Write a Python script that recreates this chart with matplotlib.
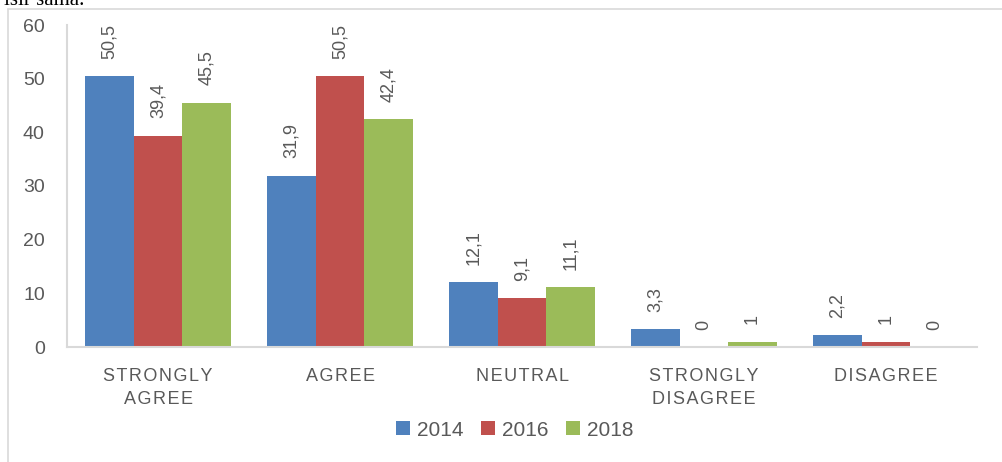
import numpy as np
import matplotlib.pyplot as plt
from matplotlib.patches import Rectangle

plt.rcParams['font.family'] = ['Liberation Sans', 'DejaVu Sans']

categories = ['STRONGLY\nAGREE', 'AGREE', 'NEUTRAL', 'STRONGLY\nDISAGREE', 'DISAGREE']
years = ['2014', '2016', '2018']
values_2014 = [50.5, 31.9, 12.1, 3.3, 2.2]
values_2016 = [39.4, 50.5, 9.1, 0, 1]
values_2018 = [45.5, 42.4, 11.1, 1, 0]
colors = ['#4F81BD', '#C0504D', '#9BBB59']
txt_col = '#595959'
line_col = '#D9D9D9'

def spaced(s):
    # letter spacing like the office chart
    return '\n'.join('\u200a'.join(line) for line in s.split('\n'))

fig = plt.figure(figsize=(10.03, 4.62), dpi=100)
ax = fig.add_axes([67/1003, 1 - 347/462, 910/1003, 322/462])

x = np.arange(len(categories))
width = 0.2667
series = [values_2014, values_2016, values_2018]
for i, (vals, yr, c) in enumerate(zip(series, years, colors)):
    pos = x + (i - 1) * width
    bars = ax.bar(pos, vals, width, color=c, label=yr, zorder=2)
    for xp, v in zip(pos, vals):
        lab = ('%g' % v).replace('.', ',')
        ax.annotate(lab, (xp, v), xytext=(0, 12.5), textcoords='offset points',
                    rotation=90, ha='center', va='bottom', fontsize=13, color=txt_col)

ax.set_xlim(-0.5, len(categories) - 0.5)
ax.set_ylim(0, 60)
ax.set_yticks(range(0, 61, 10))
ax.set_xticks(x)
ax.set_xticklabels([spaced(c) for c in categories], fontsize=13, color=txt_col, linespacing=1.45)
ax.tick_params(axis='y', length=0, pad=16, labelsize=14, labelcolor=txt_col)
ax.tick_params(axis='x', length=0, pad=15)
for s in ['top', 'right']:
    ax.spines[s].set_visible(False)
for s in ['left', 'bottom']:
    ax.spines[s].set_color(line_col)
    ax.spines[s].set_linewidth(1.5)

leg = fig.legend(loc='center', bbox_to_anchor=(515/1003, 1 - 430/462), ncol=3, frameon=False,
                 fontsize=15, handlelength=0.65, handleheight=0.65, handletextpad=0.35,
                 columnspacing=0.85, labelcolor=txt_col)

# chart border (cut off at right and bottom)
fig.patches.append(Rectangle((8/1003, -0.1), 1.2, 1 - 9/462 + 0.1, transform=fig.transFigure,
                             fill=False, edgecolor=line_col, linewidth=1.2))

# cut-off line of document text above the chart
fig.text(0.004, 1 - 5/462, 'ısır sama.', family='Liberation Serif', fontsize=15,
         color='black', va='baseline', ha='left')

fig.savefig('out.png', dpi=100)
